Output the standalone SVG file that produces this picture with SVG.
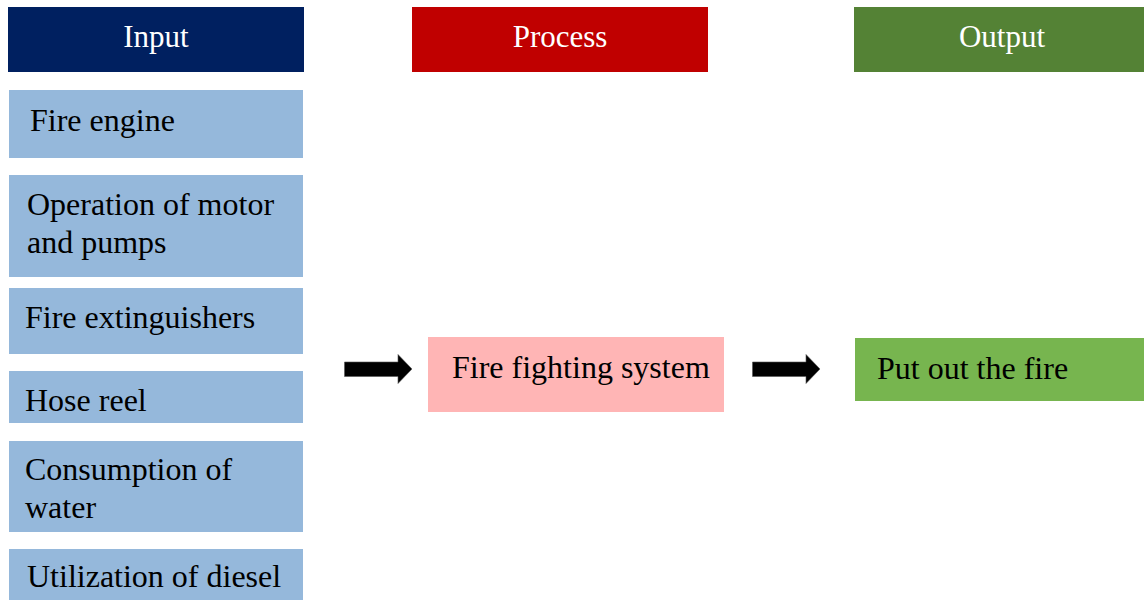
<svg xmlns="http://www.w3.org/2000/svg" width="1144" height="600" viewBox="0 0 1144 600">
<style>
text{font-family:"Liberation Serif","Times New Roman",serif;font-size:32px;fill:#000}
.hd text{fill:#fff;text-anchor:middle;font-size:31px}
.in rect{fill:#95B8DB}
.arrow{fill:#000;stroke:#555;stroke-width:0.6}
</style>
<rect width="1144" height="600" fill="#fff"/>
<g id="header-input" class="hd"><rect x="8" y="7" width="296" height="65" fill="#002060"/><text x="156" y="47">Input</text></g>
<g id="header-process" class="hd"><rect x="412" y="7" width="296" height="65" fill="#C00000"/><text x="560" y="47">Process</text></g>
<g id="header-output" class="hd"><rect x="854" y="7" width="290" height="65" fill="#548235"/><text x="1002" y="47">Output</text></g>

<g id="input-fire-engine" class="in"><rect x="9" y="90" width="294" height="68"/><text x="30" y="131">Fire engine</text></g>
<g id="input-motor-pumps" class="in"><rect x="9" y="175" width="294" height="102"/><text x="27" y="215">Operation of motor</text><text x="27" y="253">and pumps</text></g>
<g id="input-extinguishers" class="in"><rect x="9" y="288" width="294" height="66"/><text x="25" y="328">Fire extinguishers</text></g>
<g id="input-hose-reel" class="in"><rect x="9" y="371" width="294" height="52"/><text x="25" y="411">Hose reel</text></g>
<g id="input-water" class="in"><rect x="9" y="441" width="294" height="91"/><text x="25" y="480">Consumption of</text><text x="25" y="518">water</text></g>
<g id="input-diesel" class="in"><rect x="9" y="549" width="294" height="51"/><text x="27" y="587">Utilization of diesel</text></g>

<g id="process-system"><rect x="428" y="337" width="296" height="75" fill="#FFB5B5"/><text x="452" y="378">Fire fighting system</text></g>
<g id="output-put-out"><rect x="855" y="338" width="289" height="63" fill="#77B54F"/><text x="877" y="379">Put out the fire</text></g>

<g id="connectors">
<polygon class="arrow" points="344.5,362 398,362 398,354.5 412,369 398,383.5 398,376.5 344.5,376.5"/>
<polygon class="arrow" points="752.5,362 806,362 806,354.5 820,369 806,383.5 806,376.5 752.5,376.5"/>
</g>
</svg>
